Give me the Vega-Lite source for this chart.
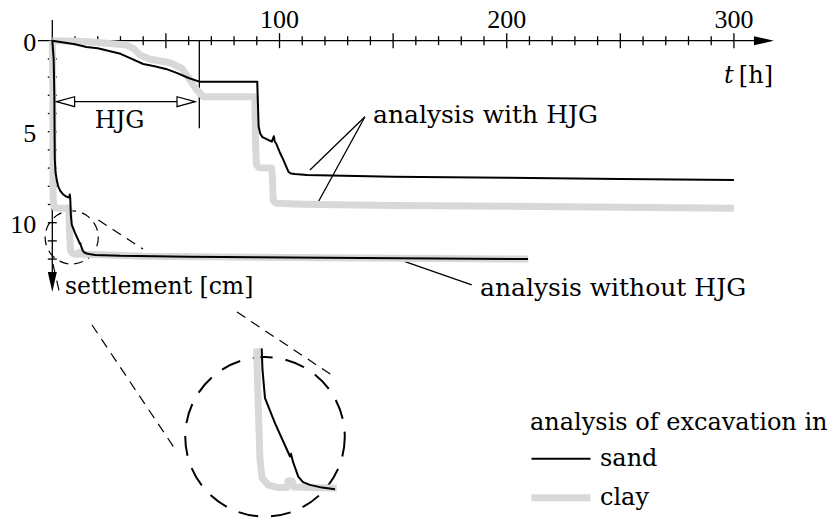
{
"$schema":"https://vega.github.io/schema/vega-lite/v6.json",
"width":833,"height":531,"padding":0,"autosize":{"type":"none"},
"background":"white",
"config":{"view":{"stroke":null},"text":{"font":"DejaVu Serif","fontSize":24,"color":"black"}},
"datasets":{
"curves":[
{"analysis":"with HJG","material":"sand","t":0,"s":0},{"analysis":"with HJG","material":"sand","t":5,"s":0.1},{"analysis":"with HJG","material":"sand","t":10,"s":0.2},{"analysis":"with HJG","material":"sand","t":15,"s":0.35},{"analysis":"with HJG","material":"sand","t":20,"s":0.42},{"analysis":"with HJG","material":"sand","t":25,"s":0.57},{"analysis":"with HJG","material":"sand","t":30,"s":0.72},{"analysis":"with HJG","material":"sand","t":35,"s":1.0},{"analysis":"with HJG","material":"sand","t":40,"s":1.28},{"analysis":"with HJG","material":"sand","t":45,"s":1.4},{"analysis":"with HJG","material":"sand","t":50,"s":1.55},{"analysis":"with HJG","material":"sand","t":55,"s":1.78},{"analysis":"with HJG","material":"sand","t":60,"s":2.05},{"analysis":"with HJG","material":"sand","t":64.7,"s":2.25},{"analysis":"with HJG","material":"sand","t":90.2,"s":2.25},{"analysis":"with HJG","material":"sand","t":90.5,"s":3.5},{"analysis":"with HJG","material":"sand","t":90.8,"s":4.7},{"analysis":"with HJG","material":"sand","t":91.5,"s":5.1},{"analysis":"with HJG","material":"sand","t":92.5,"s":5.3},{"analysis":"with HJG","material":"sand","t":95,"s":5.45},{"analysis":"with HJG","material":"sand","t":96.6,"s":5.55},{"analysis":"with HJG","material":"sand","t":97.5,"s":5.25},{"analysis":"with HJG","material":"sand","t":97.9,"s":5.55},{"analysis":"with HJG","material":"sand","t":98.5,"s":5.64},{"analysis":"with HJG","material":"sand","t":100,"s":6.1},{"analysis":"with HJG","material":"sand","t":101.7,"s":6.55},{"analysis":"with HJG","material":"sand","t":103.9,"s":7.2},{"analysis":"with HJG","material":"sand","t":105,"s":7.3},{"analysis":"with HJG","material":"sand","t":106.8,"s":7.33},{"analysis":"with HJG","material":"sand","t":112,"s":7.38},{"analysis":"with HJG","material":"sand","t":150,"s":7.47},{"analysis":"with HJG","material":"sand","t":200,"s":7.53},{"analysis":"with HJG","material":"sand","t":250,"s":7.6},{"analysis":"with HJG","material":"sand","t":300,"s":7.65},
{"analysis":"with HJG","material":"clay","t":0,"s":0},{"analysis":"with HJG","material":"clay","t":5,"s":0.02},{"analysis":"with HJG","material":"clay","t":13.7,"s":0.05},{"analysis":"with HJG","material":"clay","t":23.9,"s":0.14},{"analysis":"with HJG","material":"clay","t":32.7,"s":0.24},{"analysis":"with HJG","material":"clay","t":36,"s":0.45},{"analysis":"with HJG","material":"clay","t":38.6,"s":0.79},{"analysis":"with HJG","material":"clay","t":43,"s":1.02},{"analysis":"with HJG","material":"clay","t":51.8,"s":1.21},{"analysis":"with HJG","material":"clay","t":57,"s":1.52},{"analysis":"with HJG","material":"clay","t":60.6,"s":2.16},{"analysis":"with HJG","material":"clay","t":63.6,"s":2.71},{"analysis":"with HJG","material":"clay","t":66.5,"s":3.08},{"analysis":"with HJG","material":"clay","t":89.2,"s":3.08},{"analysis":"with HJG","material":"clay","t":89.4,"s":5.5},{"analysis":"with HJG","material":"clay","t":89.8,"s":6.8},{"analysis":"with HJG","material":"clay","t":91,"s":6.98},{"analysis":"with HJG","material":"clay","t":96.5,"s":7.0},{"analysis":"with HJG","material":"clay","t":96.8,"s":7.4},{"analysis":"with HJG","material":"clay","t":97,"s":8.0},{"analysis":"with HJG","material":"clay","t":97.3,"s":8.8},{"analysis":"with HJG","material":"clay","t":98.5,"s":8.93},{"analysis":"with HJG","material":"clay","t":110,"s":8.98},{"analysis":"with HJG","material":"clay","t":150,"s":9.05},{"analysis":"with HJG","material":"clay","t":200,"s":9.1},{"analysis":"with HJG","material":"clay","t":300,"s":9.2},
{"analysis":"without HJG","material":"sand","t":0,"s":0},{"analysis":"without HJG","material":"sand","t":0.6,"s":1},{"analysis":"without HJG","material":"sand","t":0.9,"s":3},{"analysis":"without HJG","material":"sand","t":1.0,"s":5},{"analysis":"without HJG","material":"sand","t":1.1,"s":6.5},{"analysis":"without HJG","material":"sand","t":1.4,"s":7.2},{"analysis":"without HJG","material":"sand","t":2.0,"s":7.7},{"analysis":"without HJG","material":"sand","t":2.6,"s":8.0},{"analysis":"without HJG","material":"sand","t":3.5,"s":8.25},{"analysis":"without HJG","material":"sand","t":4.8,"s":8.45},{"analysis":"without HJG","material":"sand","t":6.0,"s":8.55},{"analysis":"without HJG","material":"sand","t":7.0,"s":8.6},{"analysis":"without HJG","material":"sand","t":7.5,"s":8.62},{"analysis":"without HJG","material":"sand","t":7.7,"s":8.45},{"analysis":"without HJG","material":"sand","t":7.9,"s":8.65},{"analysis":"without HJG","material":"sand","t":8.0,"s":9.0},{"analysis":"without HJG","material":"sand","t":8.05,"s":9.19},{"analysis":"without HJG","material":"sand","t":8.17,"s":9.58},{"analysis":"without HJG","material":"sand","t":8.54,"s":10.1},{"analysis":"without HJG","material":"sand","t":10.0,"s":10.56},{"analysis":"without HJG","material":"sand","t":12.21,"s":11.17},{"analysis":"without HJG","material":"sand","t":12.35,"s":11.12},{"analysis":"without HJG","material":"sand","t":12.65,"s":11.27},{"analysis":"without HJG","material":"sand","t":13.42,"s":11.54},{"analysis":"without HJG","material":"sand","t":14.11,"s":11.64},{"analysis":"without HJG","material":"sand","t":15.14,"s":11.69},{"analysis":"without HJG","material":"sand","t":16.9,"s":11.74},{"analysis":"without HJG","material":"sand","t":18.81,"s":11.77},{"analysis":"without HJG","material":"sand","t":30,"s":11.82},{"analysis":"without HJG","material":"sand","t":60,"s":11.87},{"analysis":"without HJG","material":"sand","t":120,"s":11.93},{"analysis":"without HJG","material":"sand","t":209.4,"s":12.0},
{"analysis":"without HJG","material":"clay","t":0,"s":0},{"analysis":"without HJG","material":"clay","t":0.2,"s":2},{"analysis":"without HJG","material":"clay","t":0.3,"s":6},{"analysis":"without HJG","material":"clay","t":0.35,"s":8.5},{"analysis":"without HJG","material":"clay","t":0.6,"s":9.0},{"analysis":"without HJG","material":"clay","t":1.2,"s":9.18},{"analysis":"without HJG","material":"clay","t":3,"s":9.21},{"analysis":"without HJG","material":"clay","t":5,"s":9.21},{"analysis":"without HJG","material":"clay","t":7.0,"s":9.2},{"analysis":"without HJG","material":"clay","t":7.32,"s":9.19},{"analysis":"without HJG","material":"clay","t":7.51,"s":10.13},{"analysis":"without HJG","material":"clay","t":7.81,"s":11.23},{"analysis":"without HJG","material":"clay","t":8.1,"s":11.56},{"analysis":"without HJG","material":"clay","t":8.98,"s":11.69},{"analysis":"without HJG","material":"clay","t":10.45,"s":11.74},{"analysis":"without HJG","material":"clay","t":11.77,"s":11.74},{"analysis":"without HJG","material":"clay","t":11.91,"s":11.62},{"analysis":"without HJG","material":"clay","t":12.5,"s":11.62},{"analysis":"without HJG","material":"clay","t":12.79,"s":11.73},{"analysis":"without HJG","material":"clay","t":19.06,"s":11.75},{"analysis":"without HJG","material":"clay","t":40,"s":11.85},{"analysis":"without HJG","material":"clay","t":120,"s":11.93},{"analysis":"without HJG","material":"clay","t":209.4,"s":12.0}
],
"ticks_x":[{"t":10},{"t":20},{"t":30},{"t":40},{"t":50},{"t":60},{"t":70},{"t":80},{"t":90},{"t":100},{"t":110},{"t":120},{"t":130},{"t":140},{"t":150},{"t":160},{"t":170},{"t":180},{"t":190},{"t":200},{"t":210},{"t":220},{"t":230},{"t":240},{"t":250},{"t":260},{"t":270},{"t":280},{"t":290},{"t":300}],
"ticks_y":[{"s":1},{"s":2},{"s":3},{"s":4},{"s":5},{"s":6},{"s":7},{"s":8},{"s":9},{"s":10},{"s":11},{"s":12}],
"segments":[
{"kind":"solid","t1":-6.3,"s1":0,"t2":311.5,"s2":0},
{"kind":"solid","t1":0,"s1":-1.14,"t2":0,"s2":13.2},
{"kind":"solid","t1":1.9,"s1":3.35,"t2":62.8,"s2":3.35},
{"kind":"solid","t1":64.7,"s1":0,"t2":64.7,"s2":4.81},
{"kind":"solid","t1":137.6,"s1":4.18,"t2":113.4,"s2":7.1},
{"kind":"solid","t1":137.6,"s1":4.18,"t2":117.1,"s2":8.85},
{"kind":"solid","t1":155.24,"s1":12.14,"t2":184.6,"s2":13.42},
{"kind":"dashed","t1":20.25,"s1":9.85,"t2":39.92,"s2":11.45},
{"kind":"dashed","t1":81.29,"s1":14.91,"t2":122.98,"s2":18.37},
{"kind":"dashed","t1":0.31,"s1":12.27,"t2":3.39,"s2":13.97},
{"kind":"dashed","t1":17.47,"s1":15.62,"t2":54.89,"s2":22.6}
],
"zoomcenter":[{"t":8.54,"s":10.81}]
},
"layer":[
{"layer":[
{"data":{"name":"ticks_x"},"mark":{"type":"tick","orient":"vertical","thickness":1.3,"color":"black","opacity":1},
 "encoding":{"x":{"field":"t","type":"quantitative","scale":{"domain":[-23.02,343.6],"nice":false,"zero":false},"axis":null},
 "y":{"datum":0,"type":"quantitative","scale":{"domain":[-2.236,26.94],"nice":false,"zero":false,"reverse":true},"axis":null},
 "size":{"condition":{"test":"datum.t % 50 === 0","value":15},"value":9}}},
{"data":{"name":"ticks_y"},"mark":{"type":"tick","orient":"horizontal","thickness":1.3,"color":"black","opacity":1,"size":9},
 "encoding":{"x":{"datum":0,"type":"quantitative"},"y":{"field":"s","type":"quantitative"}}},
{"data":{"name":"segments"},"transform":[{"filter":"datum.kind === 'solid'"}],"mark":{"type":"rule","color":"black","strokeWidth":1.3},
 "encoding":{"x":{"field":"t1","type":"quantitative"},"x2":{"field":"t2"},"y":{"field":"s1","type":"quantitative"},"y2":{"field":"s2"}}},
{"data":{"name":"segments"},"transform":[{"filter":"datum.kind === 'dashed'"}],"mark":{"type":"rule","color":"black","strokeWidth":1.2,"strokeDash":[10,7]},
 "encoding":{"x":{"field":"t1","type":"quantitative"},"x2":{"field":"t2"},"y":{"field":"s1","type":"quantitative"},"y2":{"field":"s2"}}},
{"data":{"name":"zoomcenter"},"mark":{"type":"point","shape":"circle","filled":false,"stroke":"black","strokeWidth":1.2,"strokeDash":[9,6],"size":2827,"opacity":1},
 "encoding":{"x":{"field":"t","type":"quantitative"},"y":{"field":"s","type":"quantitative"}}},
{"data":{"name":"curves"},"transform":[{"filter":"datum.material === 'clay'"}],"mark":{"type":"line","strokeJoin":"round"},
 "encoding":{"x":{"field":"t","type":"quantitative"},"y":{"field":"s","type":"quantitative"},"detail":{"field":"analysis"},
 "color":{"field":"material","type":"ordinal","scale":{"domain":["sand","clay"],"range":["#000000","#d8d8d8"]},
   "legend":{"title":"analysis of excavation in","orient":"none","legendX":530,"legendY":411,"padding":0,"titleFont":"DejaVu Serif","titleFontSize":24,"titleFontWeight":"normal","titleColor":"black","titlePadding":5.7,"titleLimit":600,"labelFont":"DejaVu Serif","labelFontSize":24,"labelColor":"black","labelOffset":29,"labelLimit":300,"symbolType":"M -1.118 0 L 2.353 0","symbolSize":1156,"rowPadding":6.6}},
 "strokeWidth":{"field":"material","type":"ordinal","scale":{"domain":["sand","clay"],"range":[2,7]},"legend":{"title":"analysis of excavation in","orient":"none","legendX":530,"legendY":411,"padding":0,"titleFont":"DejaVu Serif","titleFontSize":24,"titleFontWeight":"normal","titleColor":"black","titlePadding":5.7,"titleLimit":600,"labelFont":"DejaVu Serif","labelFontSize":24,"labelColor":"black","labelOffset":29,"labelLimit":300,"symbolType":"M -1.118 0 L 2.353 0","symbolSize":1156,"rowPadding":6.6}}}},
{"data":{"name":"curves"},"transform":[{"filter":"datum.material === 'sand'"}],"mark":{"type":"line","strokeJoin":"round"},
 "encoding":{"x":{"field":"t","type":"quantitative"},"y":{"field":"s","type":"quantitative"},"detail":{"field":"analysis"},
 "color":{"field":"material","type":"ordinal"},"strokeWidth":{"field":"material","type":"ordinal"}}},
{"data":{"values":[{"t":317.6,"s":0}]},"mark":{"type":"point","shape":"M 0 0 L -2 -0.45 L -2 0.45 Z","filled":true,"fill":"black","strokeWidth":0,"size":400,"opacity":1},
 "encoding":{"x":{"field":"t","type":"quantitative"},"y":{"field":"s","type":"quantitative"}}},
{"data":{"values":[{"t":0,"s":13.81}]},"mark":{"type":"point","shape":"M 0 0 L -0.45 -2 L 0.45 -2 Z","filled":true,"fill":"black","strokeWidth":0,"size":400,"opacity":1},
 "encoding":{"x":{"field":"t","type":"quantitative"},"y":{"field":"s","type":"quantitative"}}},
{"data":{"values":[{"t":1.9,"s":3.35}]},"mark":{"type":"point","shape":"M 0 0 L 2 -0.55 L 2 0.55 Z","filled":true,"fill":"white","stroke":"black","strokeWidth":1.2,"size":324,"opacity":1},
 "encoding":{"x":{"field":"t","type":"quantitative"},"y":{"field":"s","type":"quantitative"}}},
{"data":{"values":[{"t":62.8,"s":3.35}]},"mark":{"type":"point","shape":"M 0 0 L -2 -0.55 L -2 0.55 Z","filled":true,"fill":"white","stroke":"black","strokeWidth":1.2,"size":324,"opacity":1},
 "encoding":{"x":{"field":"t","type":"quantitative"},"y":{"field":"s","type":"quantitative"}}},
{"data":{"values":[{"v":100},{"v":200},{"v":300}]},"mark":{"type":"text","font":"Liberation Serif","fontSize":26,"baseline":"alphabetic","align":"center","dy":-12.5},
 "encoding":{"x":{"field":"v","type":"quantitative"},"y":{"datum":0,"type":"quantitative"},"text":{"field":"v"}}},
{"data":{"values":[{"v":0},{"v":5},{"v":10}]},"mark":{"type":"text","font":"Liberation Serif","fontSize":26,"baseline":"middle","align":"right","dx":-16,"dy":2},
 "encoding":{"x":{"datum":0,"type":"quantitative"},"y":{"field":"v","type":"quantitative"},"text":{"field":"v"}}},
{"data":{"values":[{"text":"analysis with HJG","t":141.15,"s":4.54},{"text":"analysis without HJG","t":188.25,"s":14.03}]},
 "mark":{"type":"text","baseline":"alphabetic","align":"left","fontSize":25},
 "encoding":{"x":{"field":"t","type":"quantitative"},"y":{"field":"s","type":"quantitative"},"text":{"field":"text"}}},
{"data":{"values":[{"text":"settlement [cm]","t":5.6,"s":13.92}]},
 "mark":{"type":"text","baseline":"alphabetic","align":"left","fontSize":23.5},
 "encoding":{"x":{"field":"t","type":"quantitative"},"y":{"field":"s","type":"quantitative"},"text":{"field":"text"}}},
{"data":{"values":[{"text":"HJG","t":29.6,"s":4.81}]},"mark":{"type":"text","baseline":"alphabetic","align":"center"},
 "encoding":{"x":{"field":"t","type":"quantitative"},"y":{"field":"s","type":"quantitative"},"text":{"field":"text"}}},
{"data":{"values":[{"text":"t","t":297.8,"s":2.32}]},"mark":{"type":"text","baseline":"alphabetic","align":"center","fontStyle":"italic"},
 "encoding":{"x":{"field":"t","type":"quantitative"},"y":{"field":"s","type":"quantitative"},"text":{"field":"text"}}},
{"data":{"values":[{"text":"[h]","t":317.2,"s":2.32}]},"mark":{"type":"text","baseline":"alphabetic","align":"right"},
 "encoding":{"x":{"field":"t","type":"quantitative"},"y":{"field":"s","type":"quantitative"},"text":{"field":"text"}}}
]},
{"layer":[
{"data":{"name":"zoomcenter"},"mark":{"type":"point","shape":"circle","filled":false,"stroke":"black","strokeWidth":2,"strokeDash":[20,13],"size":25447,"opacity":1},
 "encoding":{"x":{"field":"t","type":"quantitative","scale":{"domain":[0,20],"range":[206.8,343.12],"nice":false,"zero":false},"axis":null},
 "y":{"field":"s","type":"quantitative","scale":{"domain":[8,12],"range":[283.4,501.8],"nice":false,"zero":false},"axis":null}}},
{"data":{"name":"curves"},"transform":[{"filter":"datum.material === 'clay' && datum.analysis === 'without HJG' && datum.t >= 7.25 && datum.t <= 19.2 && datum.s >= 9.15"}],"mark":{"type":"line","strokeJoin":"round"},
 "encoding":{"x":{"field":"t","type":"quantitative"},"y":{"field":"s","type":"quantitative"},
 "color":{"field":"material","type":"ordinal"},"strokeWidth":{"field":"material","type":"ordinal"}}},
{"data":{"name":"curves"},"transform":[{"filter":"datum.material === 'sand' && datum.analysis === 'without HJG' && datum.t >= 7.25 && datum.t <= 19.2 && datum.s >= 9.15"}],"mark":{"type":"line","strokeJoin":"round"},
 "encoding":{"x":{"field":"t","type":"quantitative"},"y":{"field":"s","type":"quantitative"},
 "color":{"field":"material","type":"ordinal"},"strokeWidth":{"field":"material","type":"ordinal"}}}
]}
],
"resolve":{"scale":{"x":"independent","y":"independent"}}
}
